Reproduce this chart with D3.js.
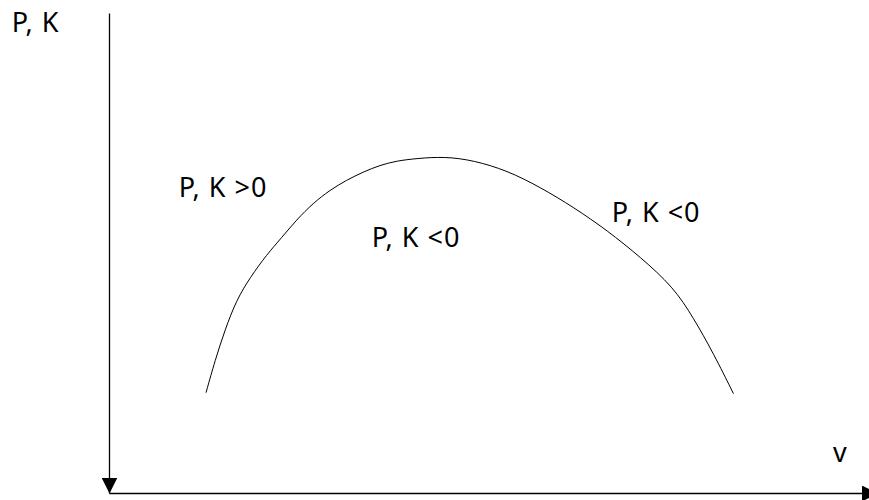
<!DOCTYPE html>
<html>
<head>
<meta charset="utf-8">
<script src="https://cdn.jsdelivr.net/npm/d3@7"></script>
<style>
  html, body { margin: 0; padding: 0; background: #fff; }
  svg { display: block; }
  text { font-family: "Noto Sans", "Open Sans", sans-serif; font-size: 27px; letter-spacing: 1px; fill: #000; }
</style>
</head>
<body>
<svg id="chart" width="869" height="500"></svg>
<script>
// curve (v, P/K in arbitrary units 0..100)
const curveV = [12.7, 13.9, 15.2, 16.7, 18.5, 20.7, 22.6, 24.6, 26.8, 29.0, 31.2, 33.4, 35.6, 37.8, 40.4, 44.1, 47.9, 52.3, 56.7, 61.1, 65.5, 69.9, 74.2, 76.8, 79.5, 82.1];
const curveP = [21.0, 27.8, 34.1, 40.3, 45.0, 49.8, 53.2, 57.0, 60.5, 63.2, 65.3, 67.0, 68.4, 69.3, 69.8, 70.2, 69.4, 67.3, 63.8, 59.6, 54.8, 49.2, 43.0, 36.7, 29.1, 20.8];

const regionLabels = ['P, K >0', 'P, K <0', 'P, K <0'];
const regionV = [9.1, 34.5, 66.1];
const regionP = [61.8, 51.4, 56.6];

const xTitle = 'v';
const yTitle = 'P, K';

const svg = d3.select('#chart');

const x = d3.scaleLinear().domain([0, 100]).range([109.5, 869.5]);
const y = d3.scaleLinear().domain([0, 100]).range([493.5, 13.5]);

// arrowhead
const defs = svg.append('defs');
defs.append('marker')
    .attr('id', 'arrow')
    .attr('markerUnits', 'userSpaceOnUse')
    .attr('viewBox', '0 0 16 16')
    .attr('markerWidth', 16)
    .attr('markerHeight', 16)
    .attr('refX', 16)
    .attr('refY', 8)
    .attr('orient', 'auto')
    .append('path')
    .attr('d', 'M0,0 L16,8 L0,16 Z')
    .attr('fill', '#000');

// vertical axis, arrow pointing down to the origin
svg.append('line')
    .attr('x1', x(0)).attr('y1', y(100))
    .attr('x2', x(0)).attr('y2', y(0))
    .attr('stroke', '#000')
    .attr('stroke-width', 1.3)
    .attr('marker-end', 'url(#arrow)');

// horizontal axis, arrow to the right
svg.append('line')
    .attr('x1', x(0)).attr('y1', y(0))
    .attr('x2', x(101.1)).attr('y2', y(0))
    .attr('stroke', '#000')
    .attr('stroke-width', 1.3)
    .attr('marker-end', 'url(#arrow)');

// the curve
const pts = curveV.map((v, i) => [v, curveP[i]]);
const line = d3.line()
    .x(d => x(d[0]))
    .y(d => y(d[1]))
    .curve(d3.curveBasis);

svg.append('path')
    .datum(pts)
    .attr('d', line)
    .attr('fill', 'none')
    .attr('stroke', '#000')
    .attr('stroke-width', 1);

// region labels
svg.selectAll('text.region')
    .data(regionLabels)
    .enter()
    .append('text')
    .attr('class', 'region')
    .attr('x', (d, i) => x(regionV[i]))
    .attr('y', (d, i) => y(regionP[i]))
    .text(d => d);

// axis titles
svg.append('text')
    .attr('x', 11.7)
    .attr('y', 31.7)
    .text(yTitle);

svg.append('text')
    .attr('x', 833)
    .attr('y', 462)
    .text(xTitle);
</script>
</body>
</html>
